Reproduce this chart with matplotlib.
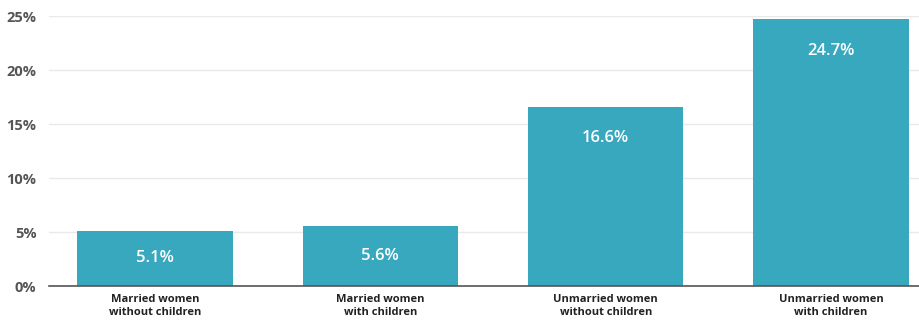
import matplotlib.pyplot as plt
from matplotlib.ticker import FuncFormatter

categories = ["Married women\nwithout children", "Married women\nwith children",
              "Unmarried women\nwithout children", "Unmarried women\nwith children"]
values = [5.1, 5.6, 16.6, 24.7]
y_ticks = [0, 5, 10, 15, 20, 25]

plt.rcParams['font.family'] = ['Open Sans', 'DejaVu Sans']

fig = plt.figure(figsize=(9.19, 3.25), dpi=100)
ax = fig.add_axes([49 / 919, 1 - 286 / 325, 870 / 919, 270 / 325])

x = list(range(len(values)))
bars = ax.bar(x, values, width=0.69, color="#38a8be", zorder=2)

ax.set_xlim(-0.47, 3.39)
ax.set_ylim(0, 25)
ax.set_yticks(y_ticks)
ax.yaxis.set_major_formatter(FuncFormatter(lambda v, p: f"{v:.0f}%"))
ax.grid(axis="y", color="#e9e9e9", linewidth=1, zorder=0)
ax.set_axisbelow(True)

for s in ["top", "right", "left"]:
    ax.spines[s].set_visible(False)
ax.spines["bottom"].set_color("#555555")
ax.spines["bottom"].set_linewidth(1.2)
ax.spines["bottom"].set_zorder(3)

ax.tick_params(axis="y", length=0, pad=9, labelsize=10.5, labelcolor="#555555")
for lbl in ax.get_yticklabels():
    lbl.set_fontweight("bold")
ax.set_xticks(x)
ax.set_xticklabels(categories, fontsize=8, fontweight="bold", color="#222222",
                   linespacing=1.2)
ax.tick_params(axis="x", length=0, pad=6)

# value labels sit near the top of tall bars, centred in short ones
for xi, v in zip(x, values):
    ypos = max(v - 2.9, v / 2)
    ax.text(xi, ypos, f"{v}%", ha="center", va="center", color="white",
            fontsize=12, fontweight="semibold", zorder=4)

fig.savefig("out.png", dpi=100)
